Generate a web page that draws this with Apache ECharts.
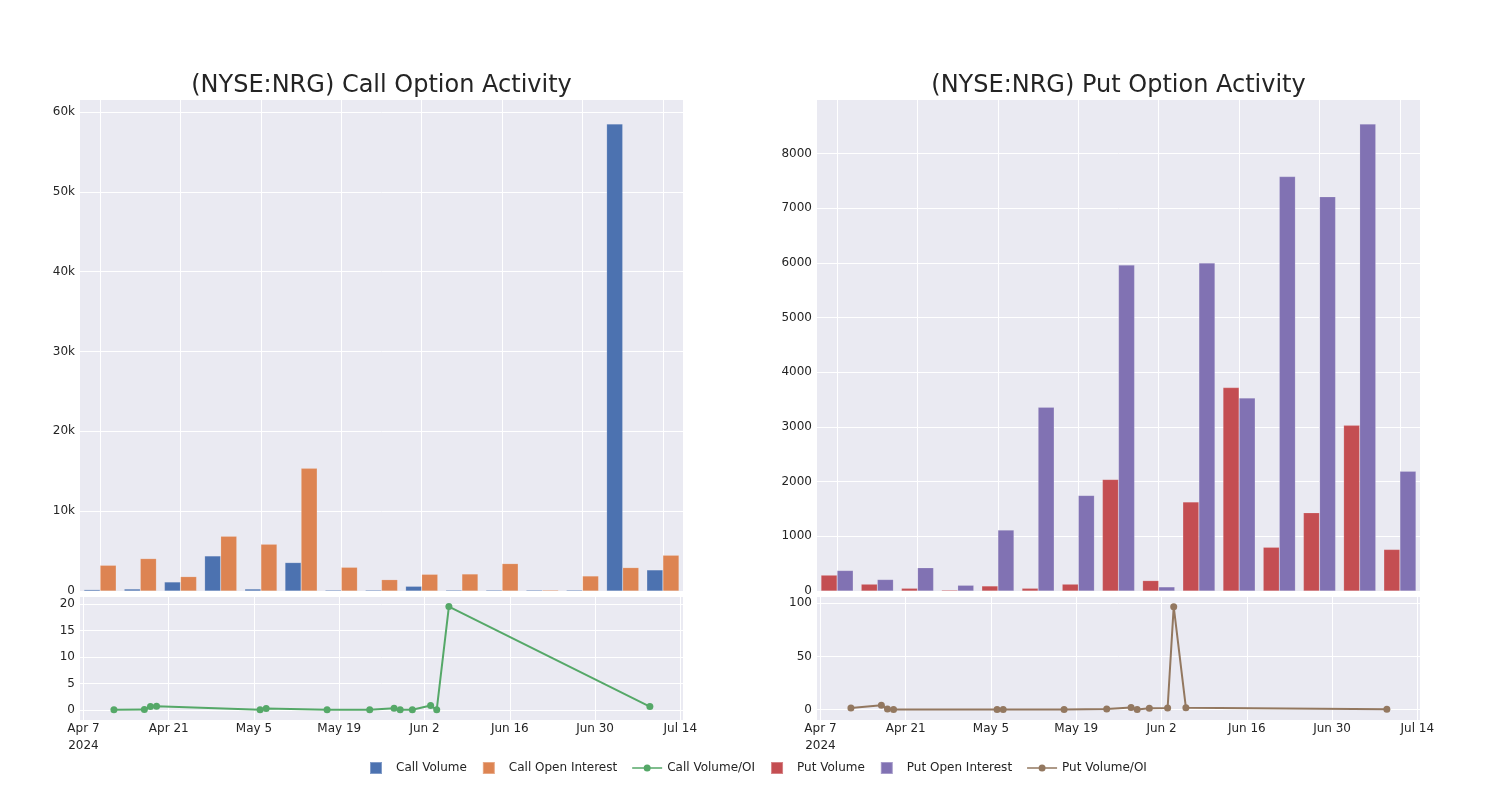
<!DOCTYPE html>
<html>
<head>
<meta charset="utf-8">
<script src="https://cdn.jsdelivr.net/npm/echarts@6/dist/echarts.min.js"></script>
<style>
html,body{margin:0;padding:0;background:#fff;}
#chart{width:1500px;height:800px;}
</style>
</head>
<body>
<div id="chart"></div>
<script>
// ---- data ----
const dates = ['2024-04-12','2024-04-17','2024-04-18','2024-04-19','2024-05-06','2024-05-07','2024-05-17','2024-05-24','2024-05-28','2024-05-29','2024-05-31','2024-06-03','2024-06-04','2024-06-06','2024-07-09'];
const callVolume = [170, 250, 1130, 4390, 250, 3560, 125, 40, 590, 50, 125, 20, 30, 58500, 2640];
const callOI = [3220, 4060, 1800, 6860, 5860, 15360, 2970, 1420, 2090, 2130, 3430, 40, 1880, 2930, 4480];
const callRatio = [0.02, 0.06, 0.63, 0.69, 0.04, 0.25, 0.04, 0.03, 0.31, 0.02, 0.04, 0.82, 0.03, 19.5, 0.63];
const putVolume = [290, 125, 50, 18, 92, 50, 125, 2040, 190, 1630, 3720, 800, 1430, 3030, 760];
const putOI = [375, 210, 425, 105, 1115, 3360, 1748, 5960, 75, 6000, 3530, 7580, 7210, 8540, 2190];
const putRatio = [1.3, 3.8, 0.3, 0.0, 0.0, 0.0, 0.0, 0.3, 1.9, 0.0, 1.0, 1.3, 96.9, 1.6, 0.1];
const dateTicks = ['2024-04-07','2024-04-21','2024-05-05','2024-05-19','2024-06-02','2024-06-16','2024-06-30','2024-07-14'];
const callTopTicks = [0, 10000, 20000, 30000, 40000, 50000, 60000];
const putTopTicks = [0, 1000, 2000, 3000, 4000, 5000, 6000, 7000, 8000];
const callRatioTicks = [0, 5, 10, 15, 20];
const putRatioTicks = [0, 50, 100];

const MONTHS = ['Jan','Feb','Mar','Apr','May','Jun','Jul','Aug','Sep','Oct','Nov','Dec'];
const DAY = 86400000;
function ts(s){ const p=s.split('-').map(Number); return Date.UTC(p[0],p[1]-1,p[2]); }
const T0 = ts(dateTicks[0]);
function dayNum(s){ return (ts(s) - T0) / DAY; }   // days since first tick date
const tickDays = dateTicks.map(dayNum);
const dMin = -0.57;
const dMax = tickDays[tickDays.length-1] + 0.44;
function dateFmt(v){
  const d = new Date(T0 + Math.round(v)*DAY);
  const s = MONTHS[d.getUTCMonth()] + ' ' + d.getUTCDate();
  return Math.abs(v - tickDays[0]) < 0.01 ? s + '\n' + d.getUTCFullYear() : s;
}

const TXT = '#242424';
const FONT = 'DejaVu Sans';
const BG = '#eaeaf2';
const C_CV = '#4c72b0', C_COI = '#dd8452', C_CR = '#55a868';
const C_PV = '#c44e52', C_POI = '#8172b3', C_PR = '#937860';

function grid(left, top, h){ return {left:left, top:top, width:603, height:h, backgroundColor:BG, show:true, borderWidth:0, containLabel:false}; }

function catAxis(gi){
  return {type:'category', gridIndex:gi, data:dates, boundaryGap:true,
    axisLine:{show:false}, axisTick:{show:false}, axisLabel:{show:false},
    splitLine:{show:true, interval:1, alignWithLabel:true, lineStyle:{color:'#fff', width:1}}};
}
function dateAxis(gi){
  return {type:'value', gridIndex:gi, min:dMin, max:dMax,
    axisLine:{show:false},
    axisTick:{show:false, customValues:tickDays},
    axisLabel:{customValues:tickDays, formatter:dateFmt, color:TXT, fontFamily:FONT, fontSize:12, lineHeight:17, margin:0, hideOverlap:false},
    splitLine:{show:true, lineStyle:{color:'#fff', width:1}}};
}
function valAxis(gi, min, max, ticks, fmt){
  return {type:'value', gridIndex:gi, min:min, max:max,
    axisLine:{show:false},
    axisTick:{show:false, customValues:ticks},
    axisLabel:{customValues:ticks, formatter:fmt, color:TXT, fontFamily:FONT, fontSize:12, margin:5},
    splitLine:{show:true, lineStyle:{color:'#fff', width:1}}};
}
const kFmt = v => v===0 ? '0' : (v/1000)+'k';
const plainFmt = v => String(v);

function bar(name, data, color, xi, yi){
  return {name:name, type:'bar', xAxisIndex:xi, yAxisIndex:yi, data:data,
    barGap:'0%', barCategoryGap:'20%', barMinHeight:1,
    itemStyle:{color:color, borderColor:'rgba(255,255,255,0.3)', borderWidth:0.5}};
}
function line(name, vals, color, xi, yi){
  return {name:name, type:'line', xAxisIndex:xi, yAxisIndex:yi,
    data: dates.map((d,i)=>[dayNum(d), vals[i]]),
    symbol:'circle', symbolSize:7, showSymbol:true,
    lineStyle:{color:color, width:2}, itemStyle:{color:color}};
}

const sq = 'path://M0,0L10,0L10,10L0,10Z';
const lineIcon = 'path://M0,4.2L30,4.2L30,5.8L0,5.8Z M11.5,5A3.5,3.5 0 1,1 18.5,5A3.5,3.5 0 1,1 11.5,5Z';
function lgLine(name, color){
  return {name:name, icon:lineIcon, itemStyle:{color:color, borderWidth:0, opacity:1}};
}
const chart = echarts.init(document.getElementById('chart'), null, {renderer:'canvas'});
chart.setOption({
  animation:false,
  backgroundColor:'#fff',
  textStyle:{fontFamily:FONT},
  title:[
    {text:'(NYSE:NRG) Call Option Activity', left:376.5, top:69, textAlign:'center', textStyle:{color:TXT, fontFamily:FONT, fontSize:24, fontWeight:'normal'}},
    {text:'(NYSE:NRG) Put Option Activity', left:1113.5, top:69, textAlign:'center', textStyle:{color:TXT, fontFamily:FONT, fontSize:24, fontWeight:'normal'}}
  ],
  legend:{
    bottom:20, left:364, itemWidth:30, itemHeight:12, itemGap:15,
    textStyle:{color:TXT, fontFamily:FONT, fontSize:12},
    data:[
      {name:'Call Volume', icon:sq},
      {name:'Call Open Interest', icon:sq},
      lgLine('Call Volume/OI', C_CR),
      {name:'Put Volume', icon:sq},
      {name:'Put Open Interest', icon:sq},
      lgLine('Put Volume/OI', C_PR)
    ]
  },
  grid:[grid(80,100,491), grid(80,597,123), grid(817,100,491), grid(817,597,123)],
  xAxis:[catAxis(0), dateAxis(1), catAxis(2), dateAxis(3)],
  yAxis:[
    valAxis(0, 0, 61500, callTopTicks, kFmt),
    valAxis(1, -1.9, 21.3, callRatioTicks, plainFmt),
    valAxis(2, 0, 8980, putTopTicks, plainFmt),
    valAxis(3, -10, 106, putRatioTicks, plainFmt)
  ],
  series:[
    bar('Call Volume', callVolume, C_CV, 0, 0),
    bar('Call Open Interest', callOI, C_COI, 0, 0),
    line('Call Volume/OI', callRatio, C_CR, 1, 1),
    bar('Put Volume', putVolume, C_PV, 2, 2),
    bar('Put Open Interest', putOI, C_POI, 2, 2),
    line('Put Volume/OI', putRatio, C_PR, 3, 3)
  ]
});
</script>
</body>
</html>
